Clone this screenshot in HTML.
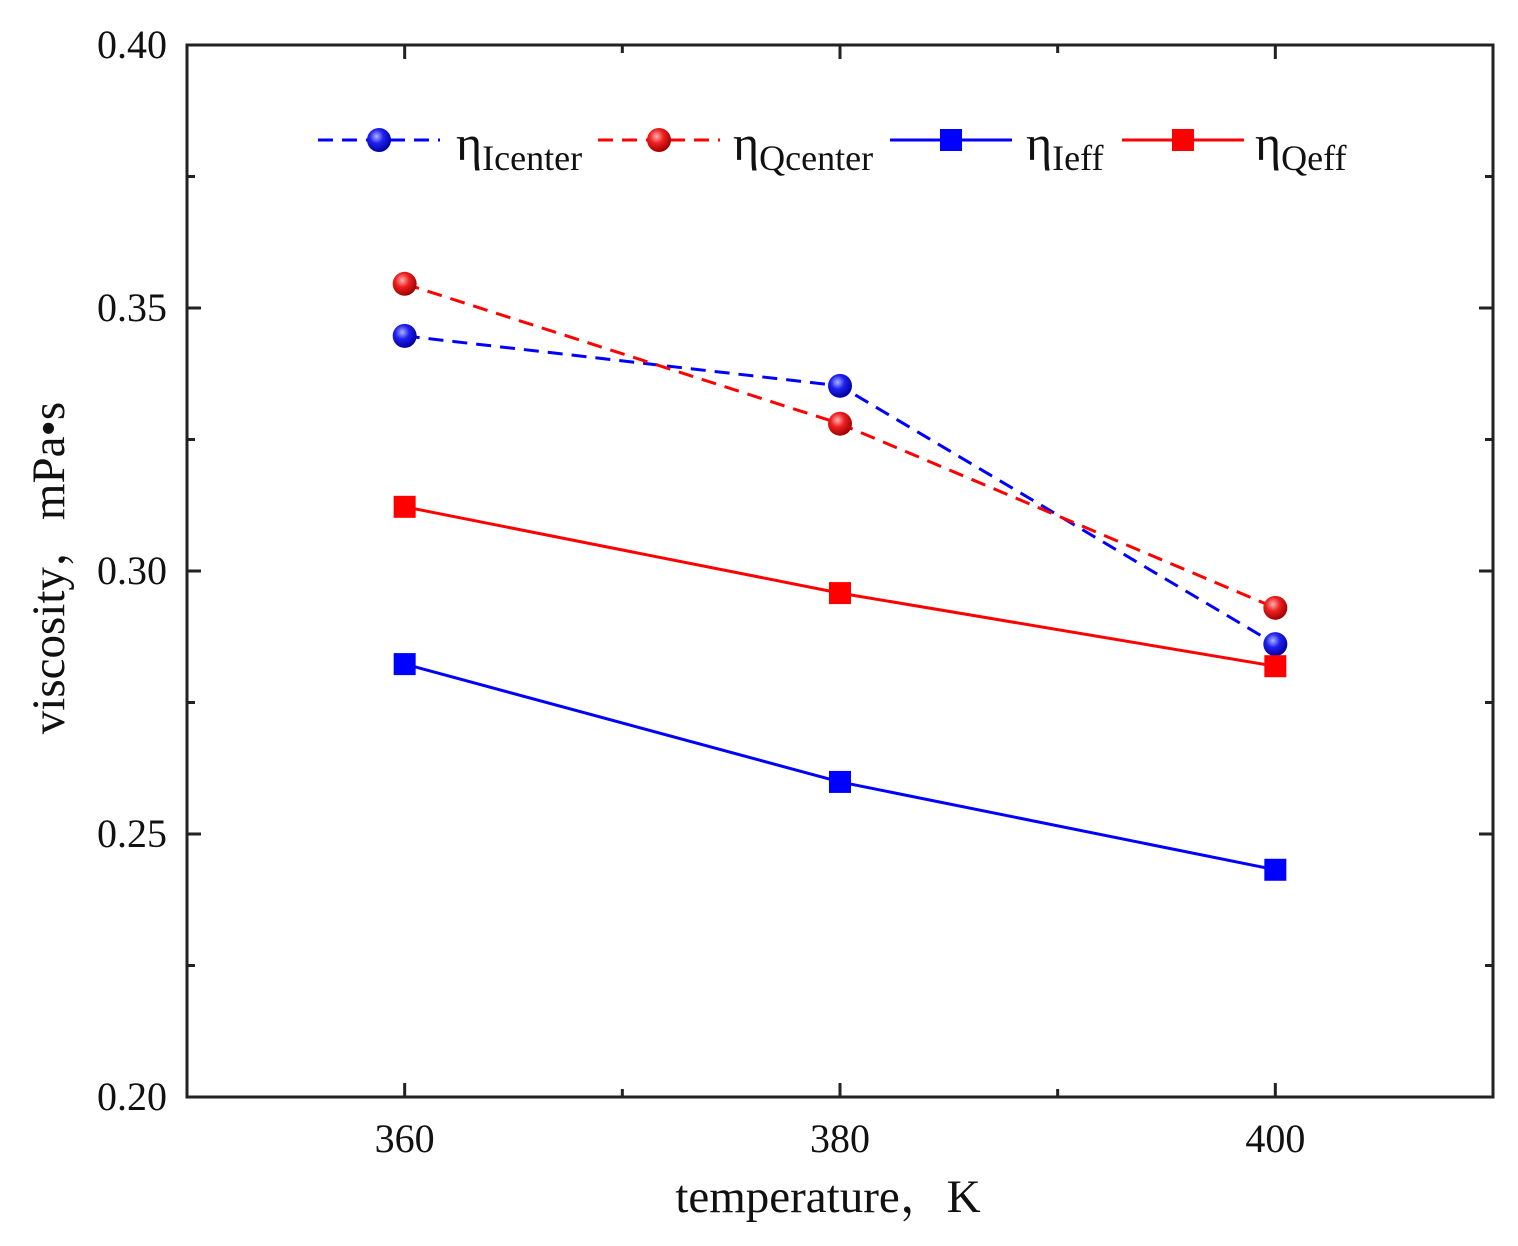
<!DOCTYPE html>
<html><head><meta charset="utf-8"><style>
body{margin:0;background:#fff;}
svg text{font-family:"Liberation Serif","Noto Serif CJK SC",serif;fill:#111;}
</style></head><body>
<svg id="chart" width="1518" height="1241" xmlns="http://www.w3.org/2000/svg">
<defs>
<radialGradient id="gb" cx="0.4" cy="0.35" r="0.65"><stop offset="0" stop-color="#aab4ff"/><stop offset="0.45" stop-color="#2020ee"/><stop offset="1" stop-color="#0000a0"/></radialGradient>
<radialGradient id="gr" cx="0.4" cy="0.35" r="0.65"><stop offset="0" stop-color="#ffb0b0"/><stop offset="0.45" stop-color="#ee2020"/><stop offset="1" stop-color="#a00000"/></radialGradient>
</defs>
<g id="plot"></g>
</svg>
<script>
const categories=[360,380,400];
const iCenter=[0.3447,0.3352,0.2861];
const qCenter=[0.3546,0.3280,0.2930];
const iEff=[0.2823,0.2599,0.2432];
const qEff=[0.3122,0.2958,0.2819];
const yTicks=[0.20,0.25,0.30,0.35,0.40];
const xTicks=[360,380,400];
const L=187,R=1493,T=45,B=1097,xMin=350,xMax=410,yMin=0.20,yMax=0.40;
const sx=v=>L+(v-xMin)/(xMax-xMin)*(R-L);
const sy=v=>B-(v-yMin)/(yMax-yMin)*(B-T);
const NS="http://www.w3.org/2000/svg";
const g=document.getElementById('plot');
function mk(tag,attrs,parent){const e=document.createElementNS(NS,tag);for(const k in attrs)e.setAttribute(k,attrs[k]);(parent||g).appendChild(e);return e;}
let fr=mk('rect',{x:L,y:T,width:R-L,height:B-T,fill:'none',stroke:'#222','stroke-width':3});


for(let i=0;i<yTicks.length;i++){
 const v=yTicks[i],y=sy(v);
 let t=mk('line',{x1:L,x2:L+14,y1:y,y2:y,stroke:'#222','stroke-width':3});
 
 
 mk('line',{x1:R,x2:R-14,y1:y,y2:y,stroke:'#222','stroke-width':3});
 let lb=mk('text',{x:L-20,y:y+13,'text-anchor':'end','font-size':40});
 lb.textContent=v.toFixed(2);
 
 
 if(i<yTicks.length-1){const ym=sy(v+0.025);
  mk('line',{x1:L,x2:L+8,y1:ym,y2:ym,stroke:'#222','stroke-width':3});
  mk('line',{x1:R,x2:R-8,y1:ym,y2:ym,stroke:'#222','stroke-width':3});}
}
for(let i=0;i<xTicks.length;i++){
 const v=xTicks[i],x=sx(v);
 let t=mk('line',{x1:x,x2:x,y1:B,y2:B-14,stroke:'#222','stroke-width':3});
 
 
 mk('line',{x1:x,x2:x,y1:T,y2:T+14,stroke:'#222','stroke-width':3});
 let lb=mk('text',{x:x,y:B+55,'text-anchor':'middle','font-size':40});
 lb.textContent=v;
 
 
 if(i<xTicks.length-1){const xm=sx(v+10);
  mk('line',{x1:xm,x2:xm,y1:B,y2:B-8,stroke:'#222','stroke-width':3});
  mk('line',{x1:xm,x2:xm,y1:T,y2:T+8,stroke:'#222','stroke-width':3});}
}
let xt=mk('text',{x:828,y:1212,'text-anchor':'middle','font-size':47});
xt.textContent='temperature，K';


let yt=mk('text',{x:0,y:0,'text-anchor':'middle','font-size':47,transform:'translate(64,568) rotate(-90)'});
yt.textContent='viscosity，mPa•s';


function series(vals,color,dash,marker,name){
 const pts=vals.map((v,i)=>sx(categories[i])+','+sy(v)).join(' ');
 let pl=mk('polyline',{points:pts,fill:'none',stroke:color,'stroke-width':3,'stroke-dasharray':dash?'15,9':'none'});
 
 
 vals.forEach((v,i)=>{
  const x=sx(categories[i]),y=sy(v);let m;
  if(marker==='c')m=mk('circle',{cx:x,cy:y,r:12,fill:color==='#0000ff'?'url(#gb)':'url(#gr)'});
  else m=mk('rect',{x:x-11,y:y-11,width:22,height:22,fill:color});
  
  
 });
}
series(iCenter,'#0000ff',true,'c','i-center');
series(qCenter,'#ff0000',true,'c','q-center');
series(iEff,'#0000ff',false,'s','i-eff');
series(qEff,'#ff0000',false,'s','q-eff');
const leg=[[318,'#0000ff',true,'c','Icenter',456],[598,'#ff0000',true,'c','Qcenter',733],[890,'#0000ff',false,'s','Ieff',1026],[1122,'#ff0000',false,'s','Qeff',1255]];
const lg=mk('g',{});


leg.forEach(([x0,c,d,m,sub,tx])=>{
 const e=mk('g',{},lg);
 
 
 mk('line',{x1:x0,x2:x0+122,y1:140,y2:140,stroke:c,'stroke-width':3,'stroke-dasharray':d?'15,9':'none'},e);
 const cx=x0+61;
 if(m==='c')mk('circle',{cx:cx,cy:140,r:12,fill:c==='#0000ff'?'url(#gb)':'url(#gr)'},e);
 else mk('rect',{x:cx-11,y:129,width:22,height:22,fill:c},e);
 const t=mk('text',{x:tx,y:160,'font-size':50},e);
 t.textContent='η';
 const s=mk('tspan',{'font-size':36,dy:10},t);
 s.textContent=sub;
});
</script>
</body></html>
